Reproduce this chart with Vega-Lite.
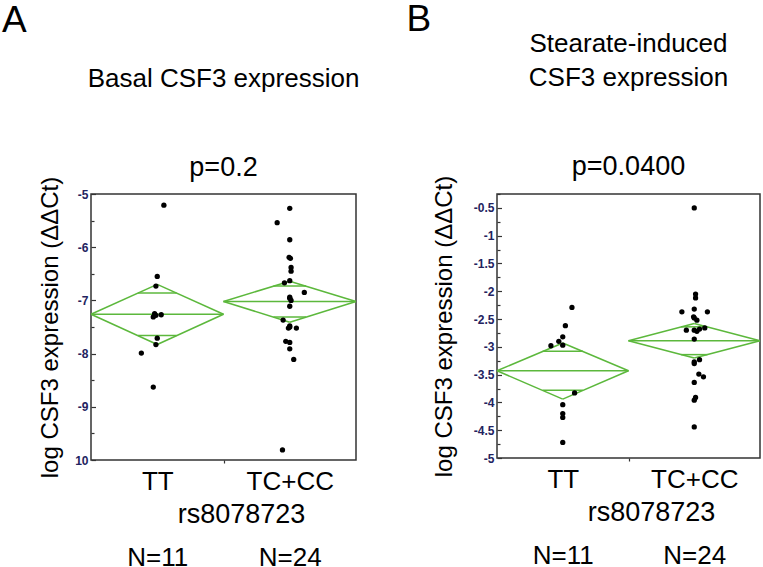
{
  "$schema": "https://vega.github.io/schema/vega-lite/v6.json",
  "background": "white",
  "padding": {"left": 1, "top": 0, "right": 0, "bottom": 0},
  "config": {
    "font": "Liberation Sans",
    "view": {"stroke": "#333333", "strokeWidth": 1.5},
    "concat": {"spacing": 45},
    "axis": {"grid": false, "domain": false, "labelOverlap": false, "labelBound": false, "labelFlush": false, "tickColor": "#333333", "tickWidth": 1.2}
  },
  "datasets": {
    "pointsA": [
      {"group": "TT", "x": 1.05, "y": -5.21},
      {"group": "TT", "x": 1.0, "y": -6.55},
      {"group": "TT", "x": 0.99, "y": -6.73},
      {"group": "TT", "x": 0.98, "y": -7.25},
      {"group": "TT", "x": 1.03, "y": -7.27},
      {"group": "TT", "x": 0.97, "y": -7.31},
      {"group": "TT", "x": 0.99, "y": -7.28},
      {"group": "TT", "x": 1.0, "y": -7.71},
      {"group": "TT", "x": 0.99, "y": -7.83},
      {"group": "TT", "x": 0.88, "y": -7.99},
      {"group": "TT", "x": 0.97, "y": -8.63},
      {"group": "TC+CC", "x": 2.0, "y": -5.27},
      {"group": "TC+CC", "x": 1.905, "y": -5.54},
      {"group": "TC+CC", "x": 2.0, "y": -5.86},
      {"group": "TC+CC", "x": 1.995, "y": -6.19},
      {"group": "TC+CC", "x": 2.005, "y": -6.21},
      {"group": "TC+CC", "x": 2.01, "y": -6.38},
      {"group": "TC+CC", "x": 2.01, "y": -6.45},
      {"group": "TC+CC", "x": 2.0, "y": -6.63},
      {"group": "TC+CC", "x": 1.96, "y": -6.67},
      {"group": "TC+CC", "x": 2.11, "y": -6.85},
      {"group": "TC+CC", "x": 2.0, "y": -6.94},
      {"group": "TC+CC", "x": 2.0, "y": -6.96},
      {"group": "TC+CC", "x": 2.01, "y": -7.0},
      {"group": "TC+CC", "x": 2.0, "y": -7.11},
      {"group": "TC+CC", "x": 1.95, "y": -7.37},
      {"group": "TC+CC", "x": 2.0, "y": -7.48},
      {"group": "TC+CC", "x": 2.0, "y": -7.5},
      {"group": "TC+CC", "x": 2.05, "y": -7.52},
      {"group": "TC+CC", "x": 1.99, "y": -7.52},
      {"group": "TC+CC", "x": 1.97, "y": -7.77},
      {"group": "TC+CC", "x": 2.0, "y": -7.79},
      {"group": "TC+CC", "x": 2.0, "y": -7.91},
      {"group": "TC+CC", "x": 2.03, "y": -8.11},
      {"group": "TC+CC", "x": 1.945, "y": -9.81}
    ],
    "pointsB": [
      {"group": "TT", "x": 1.07, "y": -2.29},
      {"group": "TT", "x": 1.02, "y": -2.62},
      {"group": "TT", "x": 1.0, "y": -2.82},
      {"group": "TT", "x": 0.97, "y": -2.9},
      {"group": "TT", "x": 1.0, "y": -2.97},
      {"group": "TT", "x": 0.91, "y": -2.98},
      {"group": "TT", "x": 1.09, "y": -3.83},
      {"group": "TT", "x": 1.0, "y": -4.04},
      {"group": "TT", "x": 1.0, "y": -4.2},
      {"group": "TT", "x": 1.0, "y": -4.27},
      {"group": "TT", "x": 1.0, "y": -4.72},
      {"group": "TC+CC", "x": 2.0, "y": -0.5},
      {"group": "TC+CC", "x": 2.01, "y": -2.05},
      {"group": "TC+CC", "x": 2.01, "y": -2.12},
      {"group": "TC+CC", "x": 1.906, "y": -2.37},
      {"group": "TC+CC", "x": 2.0, "y": -2.32},
      {"group": "TC+CC", "x": 2.1, "y": -2.37},
      {"group": "TC+CC", "x": 1.995, "y": -2.46},
      {"group": "TC+CC", "x": 2.0, "y": -2.48},
      {"group": "TC+CC", "x": 2.02, "y": -2.52},
      {"group": "TC+CC", "x": 1.94, "y": -2.7},
      {"group": "TC+CC", "x": 2.0, "y": -2.7},
      {"group": "TC+CC", "x": 2.02, "y": -2.72},
      {"group": "TC+CC", "x": 2.04, "y": -2.68},
      {"group": "TC+CC", "x": 2.08, "y": -2.66},
      {"group": "TC+CC", "x": 2.0, "y": -2.86},
      {"group": "TC+CC", "x": 2.04, "y": -3.23},
      {"group": "TC+CC", "x": 2.0, "y": -3.27},
      {"group": "TC+CC", "x": 2.0, "y": -3.3},
      {"group": "TC+CC", "x": 2.035, "y": -3.49},
      {"group": "TC+CC", "x": 2.07, "y": -3.54},
      {"group": "TC+CC", "x": 2.0, "y": -3.64},
      {"group": "TC+CC", "x": 2.01, "y": -3.91},
      {"group": "TC+CC", "x": 2.0, "y": -3.96},
      {"group": "TC+CC", "x": 2.0, "y": -4.44}
    ],
    "diamondsA": [
      {"x": 0.5, "y": -7.26, "x2": 1, "y2": -6.7},
      {"x": 1, "y": -6.7, "x2": 1.5, "y2": -7.26},
      {"x": 1.5, "y": -7.26, "x2": 1, "y2": -7.83},
      {"x": 1, "y": -7.83, "x2": 0.5, "y2": -7.26},
      {"x": 0.5, "y": -7.26, "x2": 1.5, "y2": -7.26},
      {"x": 0.854, "y": -6.86, "x2": 1.146, "y2": -6.86},
      {"x": 0.854, "y": -7.66, "x2": 1.146, "y2": -7.66},
      {"x": 1.5, "y": -7.02, "x2": 2, "y2": -6.64},
      {"x": 2, "y": -6.64, "x2": 2.5, "y2": -7.02},
      {"x": 2.5, "y": -7.02, "x2": 2, "y2": -7.41},
      {"x": 2, "y": -7.41, "x2": 1.5, "y2": -7.02},
      {"x": 1.5, "y": -7.02, "x2": 2.5, "y2": -7.02},
      {"x": 1.877, "y": -6.73, "x2": 2.123, "y2": -6.73},
      {"x": 1.877, "y": -7.31, "x2": 2.123, "y2": -7.31}
    ],
    "diamondsB": [
      {"x": 0.5, "y": -3.43, "x2": 1, "y2": -2.93},
      {"x": 1, "y": -2.93, "x2": 1.5, "y2": -3.43},
      {"x": 1.5, "y": -3.43, "x2": 1, "y2": -3.94},
      {"x": 1, "y": -3.94, "x2": 0.5, "y2": -3.43},
      {"x": 0.5, "y": -3.43, "x2": 1.5, "y2": -3.43},
      {"x": 0.847, "y": -3.08, "x2": 1.153, "y2": -3.08},
      {"x": 0.847, "y": -3.78, "x2": 1.153, "y2": -3.78},
      {"x": 1.5, "y": -2.89, "x2": 2, "y2": -2.58},
      {"x": 2, "y": -2.58, "x2": 2.5, "y2": -2.89},
      {"x": 2.5, "y": -2.89, "x2": 2, "y2": -3.2},
      {"x": 2, "y": -3.2, "x2": 1.5, "y2": -2.89},
      {"x": 1.5, "y": -2.89, "x2": 2.5, "y2": -2.89},
      {"x": 1.9, "y": -2.64, "x2": 2.1, "y2": -2.64},
      {"x": 1.9, "y": -3.14, "x2": 2.1, "y2": -3.14}
    ]
  },
  "hconcat": [
    {
      "title": {"text": "A", "anchor": "start", "fontSize": 37, "fontWeight": "normal", "color": "black", "dx": -36, "offset": -8},
      "vconcat": [
        {
          "width": 265,
          "height": 266,
          "title": {"text": ["\u00a0", "Basal CSF3 expression"], "subtitle": "p=0.2", "fontSize": 26, "fontWeight": "normal", "lineHeight": 34, "color": "black", "subtitleFontSize": 27, "subtitleColor": "black", "subtitlePadding": 63, "offset": -5, "anchor": "middle", "frame": "group"},
          "resolve": {"axis": {"x": "independent"}},
          "layer": [
            {
              "data": {"name": "diamondsA"},
              "mark": {"type": "rule", "color": "#5cb83c", "strokeWidth": 1.5},
              "encoding": {
                "x": {"field": "x", "type": "quantitative", "scale": {"domain": [0.5, 2.5], "nice": false, "zero": false},
                  "axis": {"orient": "bottom", "values": [1, 1.5, 2], "tickCount": 40, "ticks": true, "tickSize": {"condition": {"test": "datum.value === 1.5", "value": 3}, "value": 0}, "labelOverlap": false, "labelExpr": "datum.value === 1 ? 'TT' : (datum.value === 2 ? 'TC+CC' : '')", "labelFontSize": 26, "labelColor": "black", "labelPadding": 8, "labelBaseline": "top", "title": "rs8078723", "titleFontSize": 27, "titleFontWeight": "normal", "titleColor": "black", "titleX": 150, "titleY": 62, "titleBaseline": "alphabetic"}},
                "x2": {"field": "x2"},
                "y": {"field": "y", "type": "quantitative", "scale": {"domain": [-10, -5], "nice": false, "zero": false},
                  "axis": {"values": [-10, -9.5, -9, -8.5, -8, -7.5, -7, -6.5, -6, -5.5, -5], "tickCount": 40, "labelOverlap": false, "labelExpr": "abs(datum.value * 2) % 2 !== 0 ? '' : (datum.value === -10 ? '10' : '' + datum.value)", "tickSize": {"condition": {"test": "abs(datum.value * 2) % 2 !== 0", "value": -3}, "value": -4.5}, "labelPadding": 7.5, "labelFontSize": 12, "labelFontWeight": "bold", "labelColor": "#232360", "title": "log CSF3 expression (ΔΔCt)", "titleFontSize": 24, "titleFontWeight": "normal", "titleColor": "black", "titlePadding": 12}},
                "y2": {"field": "y2"}
              }
            },
            {
              "data": {"name": "pointsA"},
              "mark": {"type": "circle", "color": "black", "size": 28, "opacity": 1},
              "encoding": {
                "x": {"field": "x", "type": "quantitative",
                  "axis": {"orient": "bottom", "values": [1, 2], "ticks": false, "domain": false, "labelOverlap": false, "labelExpr": "datum.value === 1 ? 'N=11' : 'N=24'", "labelFontSize": 26, "labelColor": "black", "labelPadding": 105, "labelBaseline": "alphabetic", "title": null}},
                "y": {"field": "y", "type": "quantitative"}
              }
            }
          ]
        }
      ]
    },
    {
      "title": {"text": "B", "anchor": "start", "fontSize": 37, "fontWeight": "normal", "color": "black", "dx": -25, "offset": -8},
      "vconcat": [
        {
          "width": 263,
          "height": 264,
          "title": {"text": ["Stearate-induced", "CSF3 expression"], "subtitle": "p=0.0400", "fontSize": 26, "fontWeight": "normal", "lineHeight": 34, "color": "black", "subtitleFontSize": 27, "subtitleColor": "black", "subtitlePadding": 63, "offset": -5, "anchor": "middle", "frame": "group"},
          "resolve": {"axis": {"x": "independent"}},
          "layer": [
            {
              "data": {"name": "diamondsB"},
              "mark": {"type": "rule", "color": "#5cb83c", "strokeWidth": 1.5},
              "encoding": {
                "x": {"field": "x", "type": "quantitative", "scale": {"domain": [0.5, 2.5], "nice": false, "zero": false},
                  "axis": {"orient": "bottom", "values": [1, 1.5, 2], "tickCount": 40, "ticks": true, "tickSize": {"condition": {"test": "datum.value === 1.5", "value": 3}, "value": 0}, "labelOverlap": false, "labelExpr": "datum.value === 1 ? 'TT' : (datum.value === 2 ? 'TC+CC' : '')", "labelFontSize": 26, "labelColor": "black", "labelPadding": 8, "labelBaseline": "top", "title": "rs8078723", "titleFontSize": 27, "titleFontWeight": "normal", "titleColor": "black", "titleX": 154, "titleY": 62, "titleBaseline": "alphabetic"}},
                "x2": {"field": "x2"},
                "y": {"field": "y", "type": "quantitative", "scale": {"domain": [-5, -0.25], "nice": false, "zero": false},
                  "axis": {"values": [-5, -4.75, -4.5, -4.25, -4, -3.75, -3.5, -3.25, -3, -2.75, -2.5, -2.25, -2, -1.75, -1.5, -1.25, -1, -0.75, -0.5, -0.25], "tickCount": 40, "labelOverlap": false, "labelExpr": "abs(datum.value * 4) % 2 !== 0 ? '' : '' + datum.value", "tickSize": {"condition": {"test": "abs(datum.value * 4) % 2 !== 0", "value": -3}, "value": -4.5}, "labelPadding": 7.5, "labelFontSize": 12, "labelFontWeight": "bold", "labelColor": "#232360", "title": "log CSF3 expression (ΔΔCt)", "titleFontSize": 24, "titleFontWeight": "normal", "titleColor": "black", "titlePadding": 17}},
                "y2": {"field": "y2"}
              }
            },
            {
              "data": {"name": "pointsB"},
              "mark": {"type": "circle", "color": "black", "size": 28, "opacity": 1},
              "encoding": {
                "x": {"field": "x", "type": "quantitative",
                  "axis": {"orient": "bottom", "values": [1, 2], "ticks": false, "domain": false, "labelOverlap": false, "labelExpr": "datum.value === 1 ? 'N=11' : 'N=24'", "labelFontSize": 26, "labelColor": "black", "labelPadding": 105, "labelBaseline": "alphabetic", "title": null}},
                "y": {"field": "y", "type": "quantitative"}
              }
            }
          ]
        }
      ]
    }
  ]
}
